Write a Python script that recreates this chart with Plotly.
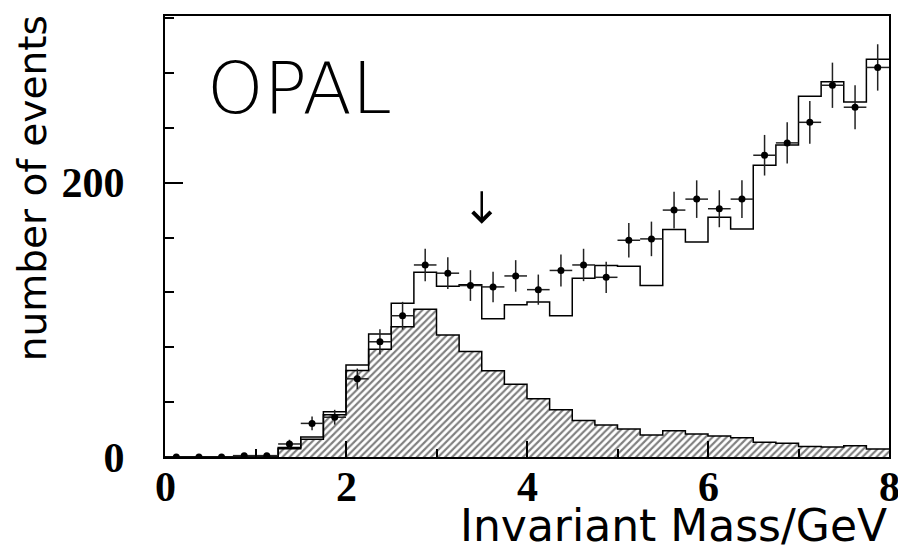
import numpy as np
import plotly.graph_objects as go

# Binning (0.25 GeV bins from 0 to 8 GeV)
bin_edges = [i * 0.25 for i in range(33)]
bin_centers = [e + 0.125 for e in bin_edges[:-1]]

# Observed data (points)
data_counts = [0, 0, 0, 1, 1, 9.5, 24.5, 29, 57, 84, 103, 140,
               134, 125, 124, 132, 122, 136, 140, 131, 158, 159, 180, 188,
               181, 188, 220, 229, 244, 271, 255, 284]
data_err = [0, 0, 0, 1, 1, 3.1, 5, 5.4, 7.5, 9.2, 10.1, 11.8,
            11.6, 11.2, 11.1, 11.5, 11, 11.7, 11.8, 11.4, 12.6, 12.6, 13.4, 13.7,
            13.5, 13.7, 14.8, 15.1, 15.6, 16.5, 16, 16.9]
half_bin = [0, 0, 0, 0.125, 0.125] + [0.125] * 27

# Total Monte Carlo expectation (open histogram)
mc_total = [0, 0, 0, 0, 0, 7, 14.5, 33, 67, 89.6, 112, 134.7,
            124.5, 125.5, 100.7, 111, 113, 103, 130.4, 139.6, 139, 125, 165.8, 156.8,
            174.8, 166.3, 212.7, 227.5, 263, 273.6, 258.8, 290]

# Background component (hatched histogram)
mc_background = [0, 0, 0, 0, 0, 6, 13, 30.8, 63, 78.6, 95, 107.8,
                 89, 77, 62.9, 53, 42.5, 34.5, 26.7, 23.3, 20.4, 16, 19.2, 16.7,
                 15.3, 14, 10.7, 10, 7.7, 7.3, 8.2, 5.8]

x_tick_vals = [0, 2, 4, 6, 8]
x_tick_text = ["0", "2", "4", "6", "8"]
y_tick_vals = [0, 200]
y_tick_text = ["0", "200"]

arrow_x = 3.5

fig = go.Figure()

# hatched background bars
fig.add_trace(go.Bar(
    x=bin_centers, y=mc_background, width=0.25,
    marker=dict(color="white", line=dict(width=0),
                pattern=dict(shape="/", fgcolor="black", bgcolor="white",
                             size=5, solidity=0.42)),
    showlegend=False, hoverinfo="skip"))

# outline of hatched histogram
fig.add_trace(go.Scatter(
    x=bin_edges, y=mc_background + [mc_background[-1]], mode="lines",
    line=dict(shape="hv", color="black", width=1.5),
    showlegend=False, hoverinfo="skip"))

# total MC histogram
fig.add_trace(go.Scatter(
    x=bin_edges, y=mc_total + [mc_total[-1]], mode="lines",
    line=dict(shape="hv", color="black", width=1.5),
    showlegend=False, hoverinfo="skip"))

# data points
fig.add_trace(go.Scatter(
    x=bin_centers, y=data_counts, mode="markers",
    marker=dict(color="black", size=7),
    error_y=dict(type="data", array=data_err, color="#222", thickness=1.5, width=0),
    error_x=dict(type="data", array=half_bin, color="#222", thickness=1.5, width=0),
    showlegend=False))

serif_bold = dict(family="Liberation Serif", size=42, color="black", weight="bold")

annotations = [
    dict(text="OPAL", xref="paper", yref="paper", x=0.055, y=0.836,
         xanchor="left", yanchor="middle", showarrow=False,
         font=dict(family="DejaVu Sans", size=72, color="black", weight=300)),
    dict(text="Invariant Mass/GeV", xref="paper", yref="paper", x=1.0, y=-0.155,
         xanchor="right", yanchor="middle", showarrow=False,
         font=dict(family="DejaVu Sans", size=44, color="black")),
    dict(text="number of events", xref="paper", yref="paper", x=-0.182, y=0.61,
         xanchor="center", yanchor="middle", showarrow=False, textangle=-90,
         font=dict(family="DejaVu Sans", size=39, color="black")),
    dict(text="", x=arrow_x, y=170, xref="x", yref="y",
         ax=0, ay=-34, showarrow=True, arrowhead=4, arrowsize=1.4,
         arrowwidth=2.5, arrowcolor="black"),
]
for v, t in zip(x_tick_vals, x_tick_text):
    annotations.append(dict(text=t, x=v, xref="x", yref="paper", y=-0.012,
                            xanchor="center", yanchor="top", showarrow=False,
                            font=serif_bold))

# the page body has an 8px margin, so the figure is offset to compensate
fig.update_layout(
    width=898, height=551,
    margin=dict(l=157, r=17, t=8, b=102, autoexpand=False),
    paper_bgcolor="white", plot_bgcolor="white",
    bargap=0,
    xaxis=dict(range=[0, 8], showgrid=False, zeroline=False, automargin=False,
               showline=True, mirror=True, linecolor="black", linewidth=2,
               ticks="inside", ticklen=16, tickwidth=1.5, tickcolor="black",
               tickvals=x_tick_vals, showticklabels=False,
               minor=dict(dtick=1, ticks="inside", ticklen=8, tickcolor="black", tickwidth=1.5)),
    yaxis=dict(range=[0, 321.5], showgrid=False, zeroline=False, automargin=False,
               showline=True, mirror=True, linecolor="black", linewidth=2,
               ticks="inside", ticklen=18, tickwidth=1.5, tickcolor="black",
               tickvals=y_tick_vals, ticktext=y_tick_text,
               minor=dict(dtick=40, ticks="inside", ticklen=9, tickcolor="black", tickwidth=1.5),
               tickfont=serif_bold, ticklabelstandoff=30),
    annotations=annotations,
)

fig.write_html("out.html")
